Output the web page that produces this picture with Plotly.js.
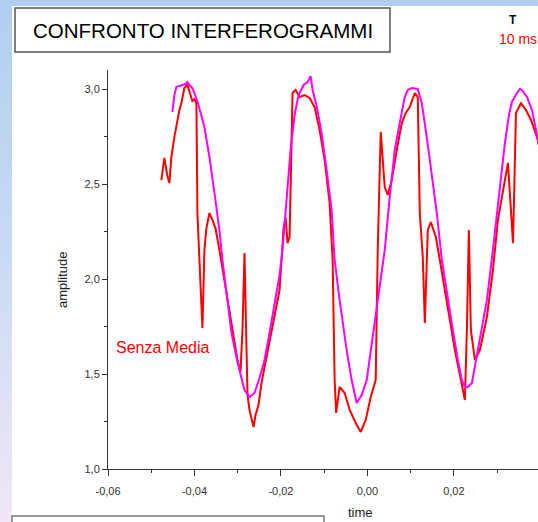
<!DOCTYPE html>
<html>
<head>
<meta charset="utf-8">
<script src="https://cdn.plot.ly/plotly-3.0.1.min.js"></script>
<style>
  html, body { margin:0; padding:0; overflow:hidden; width:538px; height:522px; }
  body { background: linear-gradient(to bottom, #b0cff0 0%, #c6daf3 45%, #f1e7f6 100%); }
  #chart { position:absolute; left:0; top:0; width:538px; height:522px; }
</style>
</head>
<body>
<div id="chart"></div>
<script>
// ---- data ----
const mediaTime = [-0.04511,-0.04465,-0.04419,-0.04303,-0.04210,-0.04164,-0.04117,-0.04048,-0.03932,-0.03770,-0.03654,-0.03538,-0.03423,-0.03353,-0.03237,-0.03144,-0.03005,-0.02843,-0.02727,-0.02611,-0.02495,-0.02380,-0.02264,-0.02148,-0.02032,-0.01963,-0.01870,-0.01777,-0.01684,-0.01592,-0.01476,-0.01383,-0.01314,-0.01267,-0.01175,-0.01059,-0.00943,-0.00827,-0.00758,-0.00642,-0.00480,-0.00364,-0.00248,-0.00132,-0.00016,0.00123,0.00285,0.00401,0.00517,0.00633,0.00748,0.00864,0.00934,0.01026,0.01165,0.01258,0.01374,0.01490,0.01606,0.01722,0.01861,0.01976,0.02092,0.02185,0.02254,0.02324,0.02417,0.02556,0.02672,0.02764,0.02903,0.03019,0.03181,0.03274,0.03343,0.03459,0.03529,0.03575,0.03691,0.03807,0.03923,0.03992];
const mediaAmp = [2.879,2.968,3.011,3.021,3.026,3.037,3.021,3.005,2.937,2.800,2.642,2.453,2.258,2.100,1.889,1.716,1.563,1.416,1.379,1.400,1.479,1.574,1.716,1.874,2.021,2.153,2.416,2.679,2.863,2.968,3.021,3.037,3.068,2.995,2.911,2.768,2.574,2.363,2.100,1.889,1.626,1.468,1.347,1.389,1.468,1.695,1.979,2.153,2.432,2.679,2.821,2.958,2.995,3.005,3.000,2.926,2.747,2.537,2.347,2.100,1.889,1.732,1.574,1.468,1.432,1.432,1.453,1.626,1.784,1.889,2.153,2.400,2.716,2.863,2.932,2.979,3.000,2.995,2.958,2.889,2.747,2.679];

const senzaTime = [-0.04766,-0.04720,-0.04697,-0.04650,-0.04627,-0.04581,-0.04534,-0.04465,-0.04395,-0.04349,-0.04303,-0.04233,-0.04164,-0.04094,-0.04048,-0.04001,-0.03955,-0.03932,-0.03886,-0.03839,-0.03816,-0.03793,-0.03770,-0.03723,-0.03654,-0.03584,-0.03515,-0.03423,-0.03376,-0.03237,-0.03121,-0.03005,-0.02936,-0.02889,-0.02843,-0.02797,-0.02773,-0.02727,-0.02681,-0.02634,-0.02588,-0.02519,-0.02449,-0.02310,-0.02148,-0.02032,-0.01986,-0.01939,-0.01893,-0.01847,-0.01800,-0.01777,-0.01731,-0.01661,-0.01569,-0.01453,-0.01337,-0.01221,-0.01105,-0.00989,-0.00874,-0.00804,-0.00781,-0.00758,-0.00723,-0.00642,-0.00526,-0.00410,-0.00271,-0.00155,-0.00039,0.00077,0.00192,0.00216,0.00239,0.00308,0.00355,0.00401,0.00470,0.00563,0.00679,0.00795,0.00887,0.00980,0.01096,0.01165,0.01212,0.01281,0.01328,0.01374,0.01397,0.01467,0.01583,0.01675,0.01791,0.01907,0.02023,0.02139,0.02208,0.02254,0.02301,0.02347,0.02393,0.02486,0.02602,0.02764,0.02903,0.03019,0.03181,0.03251,0.03320,0.03367,0.03390,0.03436,0.03552,0.03668,0.03784,0.03923,0.03992];
const senzaAmp = [2.521,2.584,2.637,2.574,2.542,2.505,2.642,2.747,2.837,2.889,2.926,3.005,3.021,2.968,2.937,2.947,2.926,2.347,2.116,1.942,1.742,1.942,2.153,2.268,2.347,2.311,2.268,2.153,2.089,1.889,1.732,1.574,1.511,1.732,2.137,1.732,1.389,1.311,1.268,1.221,1.284,1.337,1.453,1.611,1.800,1.942,2.100,2.268,2.326,2.189,2.221,2.521,2.979,2.995,2.958,2.968,2.953,2.905,2.784,2.626,2.400,2.100,1.732,1.468,1.295,1.432,1.400,1.311,1.242,1.195,1.258,1.379,1.468,1.784,2.153,2.774,2.626,2.484,2.442,2.521,2.679,2.821,2.874,2.905,2.979,2.958,2.347,2.116,1.768,2.100,2.258,2.300,2.221,2.100,1.942,1.784,1.626,1.495,1.416,1.363,1.732,2.258,1.732,1.574,1.626,1.800,2.047,2.311,2.521,2.611,2.363,2.189,2.400,2.874,2.926,2.889,2.837,2.747,2.679];

const xTickVals = [-0.06, -0.04, -0.02, 0.00, 0.02];
const xTickLabels = ['-0,06', '-0,04', '-0,02', '0,00', '0,02'];
const xMinorVals = [-0.05, -0.03, -0.01, 0.01, 0.03];
const yTickVals = [1.0, 1.5, 2.0, 2.5, 3.0];
const yTickLabels = ['1,0', '1,5', '2,0', '2,5', '3,0'];
const yMinorVals = [1.25, 1.75, 2.25, 2.75];

const chartTitle = 'CONFRONTO INTERFEROGRAMMI';
const seriesLabel = 'Senza Media';
const xLabel = 'time';
const yLabel = 'amplitude';
const cornerTop = 'T';
const cornerBottom = '10 ms';

// ---- layout helpers (pixel -> paper) ----
const L = 108, T = 70, W = 430, H = 399;
const px = x => (x - L) / W;
const py = y => 1 - (y - T) / H;
const FONT = 'Liberation Sans, Arial, sans-serif';

const traces = [
  { x: senzaTime, y: senzaAmp, type: 'scatter', mode: 'lines',
    line: { color: '#ff0000', width: 2 }, hoverinfo: 'skip', showlegend: false },
  { x: mediaTime, y: mediaAmp, type: 'scatter', mode: 'lines',
    line: { color: '#ff00ff', width: 2 }, hoverinfo: 'skip', showlegend: false }
];

const axisCommon = {
  showgrid: false, zeroline: false, showline: true, linecolor: '#333', linewidth: 1,
  ticks: 'outside', ticklen: 5, tickwidth: 1, tickcolor: '#333',
  tickfont: { family: FONT, size: 11, color: '#333' }, fixedrange: true
};

const layout = {
  width: 538, height: 522,
  margin: { l: L, r: 538 - L - W, t: T, b: 522 - T - H, pad: 0 },
  paper_bgcolor: 'rgba(0,0,0,0)', plot_bgcolor: 'rgba(0,0,0,0)',
  showlegend: false,
  xaxis: Object.assign({}, axisCommon, {
    range: [-0.06, 0.03946], tickmode: 'array', tickvals: xTickVals, ticktext: xTickLabels,
    ticklen: 6, ticklabelstandoff: 6,
    minor: { tickmode: 'array', tickvals: xMinorVals, ticks: 'outside', ticklen: 3, tickcolor: '#333', tickwidth: 1 }
  }),
  yaxis: Object.assign({}, axisCommon, {
    range: [1.0, 3.1], tickmode: 'array', tickvals: yTickVals, ticktext: yTickLabels,
    minor: { tickmode: 'array', tickvals: yMinorVals, ticks: 'outside', ticklen: 3, tickcolor: '#333', tickwidth: 1 }
  }),
  shapes: [
    { type: 'rect', xref: 'paper', yref: 'paper', layer: 'below',
      x0: px(12), x1: px(560), y0: py(6), y1: py(540),
      fillcolor: '#ffffff', line: { width: 0 } },
    { type: 'rect', xref: 'paper', yref: 'paper', layer: 'above',
      x0: px(15), x1: px(390), y0: py(8), y1: py(52),
      fillcolor: '#ffffff', line: { color: '#555', width: 1.5 } },
    { type: 'rect', xref: 'paper', yref: 'paper', layer: 'above',
      x0: px(12), x1: px(324), y0: py(516), y1: py(540),
      fillcolor: 'rgba(0,0,0,0)', line: { color: '#777', width: 1.5 } }
  ],
  annotations: [
    { xref: 'paper', yref: 'paper', x: px(203), y: py(30), text: chartTitle, showarrow: false,
      xanchor: 'center', yanchor: 'middle', font: { family: FONT, size: 20.5, color: '#000' } },
    { xref: 'paper', yref: 'paper', x: px(513), y: py(20), text: '<b>' + cornerTop + '</b>', showarrow: false,
      xanchor: 'center', yanchor: 'middle', font: { family: FONT, size: 12, color: '#111' } },
    { xref: 'paper', yref: 'paper', x: px(497), y: py(39), text: cornerBottom, showarrow: false,
      xanchor: 'left', yanchor: 'middle', font: { family: FONT, size: 14, color: '#ff0000' } },
    { xref: 'x', yref: 'y', x: -0.0585, y: 1.642, text: seriesLabel, showarrow: false,
      xanchor: 'left', yanchor: 'middle', font: { family: FONT, size: 16, color: '#ff0000' } },
    { xref: 'paper', yref: 'paper', x: px(62), y: py(280), text: yLabel, showarrow: false, textangle: -90,
      xanchor: 'center', yanchor: 'middle', font: { family: FONT, size: 13, color: '#222' } },
    { xref: 'paper', yref: 'paper', x: px(360), y: py(512), text: xLabel, showarrow: false,
      xanchor: 'center', yanchor: 'middle', font: { family: FONT, size: 13, color: '#222' } }
  ]
};

Plotly.newPlot('chart', traces, layout, { staticPlot: true, displayModeBar: false });
</script>
</body>
</html>
